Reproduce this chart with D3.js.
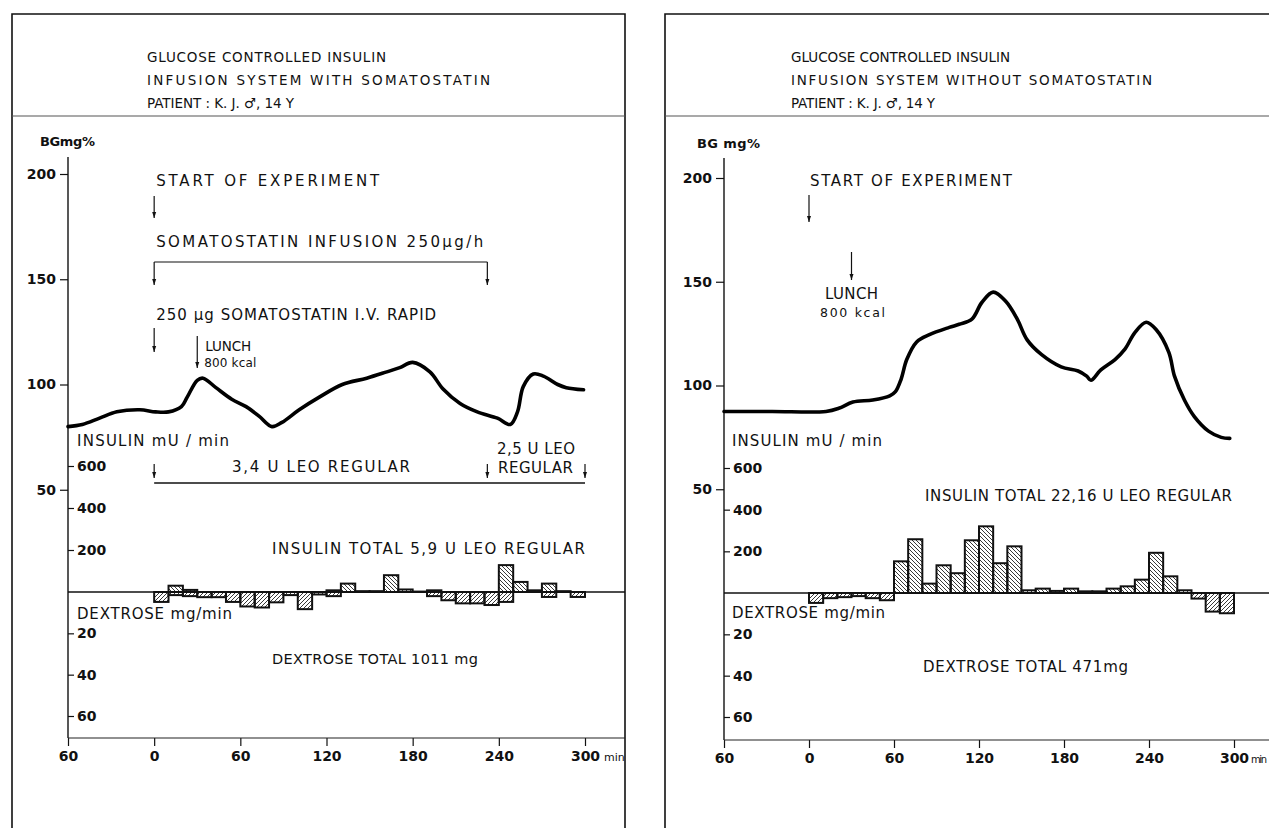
<!DOCTYPE html>
<html>
<head>
<meta charset="utf-8">
<script src="https://cdn.jsdelivr.net/npm/d3@7"></script>
<style>
  body { margin: 0; background: #fff; }
  svg text { font-family: "DejaVu Sans", "Noto Sans", sans-serif; fill: #111; }
</style>
</head>
<body>
<svg id="chart" width="1269" height="828"></svg>
<script>
// ---------------------------------------------------------------- data
var timeTicks = [-60, 0, 60, 120, 180, 240, 300];
var bgTicks = [50, 100, 150, 200];
var insulinTicks = [200, 400, 600];
var dextroseTicks = [20, 40, 60];

// 10 minute intervals used for insulin / dextrose bars
var intervalStarts = [0, 10, 20, 30, 40, 50, 60, 70, 80, 90, 100, 110, 120, 130, 140,
                      150, 160, 170, 180, 190, 200, 210, 220, 230, 240, 250, 260, 270, 280, 290];

// with somatostatin
var bgTimeWith = [-60, -50, -38, -26, -10, 1, 10, 19, 23, 30, 34, 43, 54, 64, 73, 82, 89, 101, 115,
                  131, 148, 162, 171, 180, 192, 201, 213, 225, 239, 248, 253, 257, 264, 271, 281, 287, 299];
var bgWith = [80, 81, 84, 87, 88, 87, 87, 89.5, 94, 102, 103, 98.5, 93, 89.5, 85, 80, 82, 88, 94,
              100, 103, 106, 108, 110.5, 106, 98, 91, 87, 84, 81, 87, 99, 105, 104, 100, 98.5, 97.5];
var insulinWith = [0, 30, 10, 0, 0, 0, 0, 0, 0, 0, 0, 0, 8, 40, 4,
                   4, 80, 12, 2, 8, 0, 0, 0, 0, 128, 48, 8, 40, 4, 0];
var dextroseWith = [4.8, 1.5, 2, 2.5, 2.5, 4.8, 7, 7.5, 5, 1.5, 8.3, 1.2, 2, 0, 0,
                    0, 0, 0, 0, 2, 4, 5.5, 5.5, 6.3, 4.8, 0, 0, 2.4, 0, 2.4];

// without somatostatin
var bgTimeWithout = [-60, -26, 12, 21, 31, 45, 57, 61, 65, 69, 76, 85, 99, 106, 115, 122, 130, 139, 147,
                     154, 164, 178, 190, 196, 199, 206, 216, 223, 230, 238, 245, 254, 258, 265, 272, 282, 291, 297];
var bgWithout = [87.5, 87.5, 87.5, 89, 92, 93, 95, 97, 103, 112.5, 121, 124.5, 128, 129.5, 132, 140, 145, 140.5, 132,
                 122, 115, 109, 107, 104.5, 102.5, 107.5, 112.5, 117.5, 125.5, 130.5, 127, 116, 104.5, 93, 85, 78, 75, 74.5];
var insulinWithout = [0, 0, 0, 0, 0, 0, 152, 258, 45, 133, 95, 253, 320, 143, 224,
                      13, 21, 10, 21, 8, 8, 21, 32, 64, 193, 80, 13, 0, 0, 0];
var dextroseWithout = [4.8, 2.5, 2, 1.5, 2.5, 3.5, 0, 0, 0, 0, 0, 0, 0, 0, 0,
                       0, 0, 0, 0, 0, 0, 0, 0, 0, 0, 0, 0, 2.7, 9, 9.8];

var somatostatinEnd = 232;  // end of infusion / first insulin period (min)
var lunchTime = 30;

// ---------------------------------------------------------------- setup
var svg = d3.select('#chart');
var defs = svg.append('defs');

defs.append('pattern')
  .attr('id', 'hatch-ins')
  .attr('patternUnits', 'userSpaceOnUse')
  .attr('width', 4).attr('height', 4)
  .append('path')
    .attr('d', 'M-1,-1 l6,6 M-1,3 l2,2 M3,-1 l2,2')
    .attr('stroke', '#222').attr('stroke-width', 0.9);

defs.append('pattern')
  .attr('id', 'hatch-dex')
  .attr('patternUnits', 'userSpaceOnUse')
  .attr('width', 4).attr('height', 4)
  .append('path')
    .attr('d', 'M-1,5 l6,-6 M-1,1 l2,-2 M3,5 l2,-2')
    .attr('stroke', '#222').attr('stroke-width', 0.9);

function label(g, x, y, txt, width, opts) {
  opts = opts || {};
  var t = g.append('text')
    .attr('x', x).attr('y', y)
    .attr('font-size', opts.size || 15)
    .attr('font-weight', opts.weight || 'normal')
    .attr('text-anchor', opts.anchor || 'start')
    .text(txt);
  if (width) t.attr('textLength', width).attr('lengthAdjust', 'spacing');
  return t;
}

function arrowDown(g, x, y1, y2) {
  g.append('line')
    .attr('x1', x).attr('x2', x).attr('y1', y1).attr('y2', y2)
    .attr('stroke', '#111').attr('stroke-width', 1.2);
  g.append('path')
    .attr('d', 'M' + (x - 2) + ',' + (y2 - 6) + 'L' + x + ',' + y2 + 'L' + (x + 2) + ',' + (y2 - 6) + 'Z')
    .attr('fill', '#111');
}

//--------------------------------------------------------------- one panel
function drawPanel(p) {
  var g = svg.append('g');

  // frame
  g.append('path')
    .attr('d', 'M' + p.frameL + ',830 V14 H' + p.frameR + (p.closeRight ? ' V830' : ''))
    .attr('fill', 'none').attr('stroke', '#111').attr('stroke-width', 1.6);
  g.append('line')
    .attr('x1', p.frameL).attr('x2', p.frameR).attr('y1', 116).attr('y2', 116)
    .attr('stroke', '#555').attr('stroke-width', 1.2);

  // title
  label(g, p.titleX, 62, p.title[0], p.titleW[0], {size: 13.5});
  label(g, p.titleX, 85, p.title[1], p.titleW[1], {size: 13.5});
  label(g, p.titleX, 108, p.title[2], p.titleW[2], {size: 13.5});

  var x = d3.scaleLinear().domain([-60, 300]).range(p.xRange);
  var yBG = d3.scaleLinear().domain([0, 200]).range(p.bgRange);
  var yIns = d3.scaleLinear().domain([0, 600]).range(p.insRange);
  var yDex = d3.scaleLinear().domain([0, 60]).range(p.dexRange);
  var base = yIns(0);

  // axes
  var bgAxis = g.append('g')
    .attr('transform', 'translate(' + x(-60) + ',0)')
    .call(d3.axisLeft(yBG).tickValues(bgTicks).tickSize(8).tickPadding(4));
  var insAxis = g.append('g')
    .attr('transform', 'translate(' + x(-60) + ',0)')
    .call(d3.axisRight(yIns).tickValues(insulinTicks).tickSize(6).tickPadding(3));
  var dexAxis = g.append('g')
    .attr('transform', 'translate(' + x(-60) + ',0)')
    .call(d3.axisRight(yDex).tickValues(dextroseTicks).tickSize(6).tickPadding(3));
  var xAxis = g.append('g')
    .attr('transform', 'translate(0,' + p.xAxisY + ')')
    .call(d3.axisBottom(x).tickValues(timeTicks).tickSize(8).tickPadding(5)
      .tickFormat(function(d) { return Math.abs(d); }));

  [bgAxis, insAxis, dexAxis, xAxis].forEach(function(a) {
    a.select('.domain').remove();
    a.selectAll('line').attr('stroke', '#111').attr('stroke-width', 1.2);
    a.selectAll('text')
      .attr('font-family', '"DejaVu Sans", "Noto Sans", sans-serif')
      .attr('font-size', 14).attr('font-weight', 'bold').attr('fill', '#111');
  });

  // axis lines
  g.append('line')
    .attr('x1', x(-60)).attr('x2', x(-60)).attr('y1', p.axisTop).attr('y2', p.xAxisY)
    .attr('stroke', '#111').attr('stroke-width', 1.4);
  g.append('line')
    .attr('x1', x(-60)).attr('x2', p.frameR).attr('y1', p.xAxisY).attr('y2', p.xAxisY)
    .attr('stroke', '#222').attr('stroke-width', 1.2);
  g.append('line')
    .attr('x1', x(-60)).attr('x2', p.frameR).attr('y1', base).attr('y2', base)
    .attr('stroke', '#111').attr('stroke-width', 1.3);

  label(g, p.minX, p.xAxisY + 23, 'min', p.minW, {size: p.minSize});

  // bars
  var ins = p.insulin.map(function(v, i) { return {t: intervalStarts[i], v: v}; })
    .filter(function(d) { return d.v > 0; });
  var dex = p.dextrose.map(function(v, i) { return {t: intervalStarts[i], v: v}; })
    .filter(function(d) { return d.v > 0; });

  g.selectAll('.ins-bar').data(ins).enter()
    .append('rect')
      .attr('class', 'ins-bar')
      .attr('x', function(d) { return x(d.t); })
      .attr('width', function(d) { return x(d.t + 10) - x(d.t); })
      .attr('y', function(d) { return yIns(d.v); })
      .attr('height', function(d) { return base - yIns(d.v); })
      .attr('fill', 'url(#hatch-ins)')
      .attr('stroke', '#111').attr('stroke-width', 2);

  g.selectAll('.dex-bar').data(dex).enter()
    .append('rect')
      .attr('class', 'dex-bar')
      .attr('x', function(d) { return x(d.t); })
      .attr('width', function(d) { return x(d.t + 10) - x(d.t); })
      .attr('y', base)
      .attr('height', function(d) { return yDex(d.v) - base; })
      .attr('fill', 'url(#hatch-dex)')
      .attr('stroke', '#111').attr('stroke-width', 2);

  // blood glucose curve
  var line = d3.line()
    .x(function(d) { return x(d[0]); })
    .y(function(d) { return yBG(d[1]); })
    .curve(d3.curveCatmullRom.alpha(0.5));
  g.append('path')
    .datum(d3.zip(p.bgTime, p.bg))
    .attr('d', line)
    .attr('fill', 'none')
    .attr('stroke', '#000').attr('stroke-width', 3.6)
    .attr('stroke-linejoin', 'round').attr('stroke-linecap', 'round');

  p.annotate(g, x);
}

//--------------------------------------------------------------- left panel
drawPanel({
  frameL: 12, frameR: 625, closeRight: true,
  titleX: 147,
  title: ['GLUCOSE   CONTROLLED  INSULIN', 'INFUSION   SYSTEM   WITH   SOMATOSTATIN', 'PATIENT : K. J. \u2642, 14 Y'],
  titleW: [239, 343, 147],
  xRange: [68, 585], bgRange: [595, 174], insRange: [592, 466], dexRange: [592, 716],
  xAxisY: 738, axisTop: 157, minX: 604, minW: null, minSize: 11,
  bgTime: bgTimeWith, bg: bgWith, insulin: insulinWith, dextrose: dextroseWith,
  annotate: function(g, x) {
    label(g, 40, 146, 'BGmg%', 55, {size: 13, weight: 'bold'});
    label(g, x(0) + 2, 186, 'START  OF  EXPERIMENT', 223);
    arrowDown(g, x(0), 196, 218);
    label(g, x(0) + 2, 247, 'SOMATOSTATIN    INFUSION      250\u03bcg/h', 327);
    g.append('path')
      .attr('d', 'M' + x(0) + ',262 H' + x(somatostatinEnd))
      .attr('stroke', '#111').attr('stroke-width', 1.2).attr('fill', 'none');
    arrowDown(g, x(0), 262, 285);
    arrowDown(g, x(somatostatinEnd), 262, 285);
    label(g, x(0) + 2, 320, '250 \u03bcg SOMATOSTATIN  I.V.  RAPID', 280);
    arrowDown(g, x(0), 328, 352);
    arrowDown(g, x(lunchTime), 336, 368);
    label(g, x(lunchTime) + 8, 351, 'LUNCH', 46, {size: 13.5});
    label(g, x(lunchTime) + 7, 367, '800 kcal', 52, {size: 12});
    label(g, 77, 446, 'INSULIN   mU / min', 152);
    label(g, 232, 472, '3,4 U    LEO    REGULAR', 178);
    g.append('line')
      .attr('x1', x(0)).attr('x2', x(300)).attr('y1', 483).attr('y2', 483)
      .attr('stroke', '#111').attr('stroke-width', 1.3);
    [0, somatostatinEnd, 300].forEach(function(t) { arrowDown(g, x(t), 464, 478); });
    label(g, 497, 454, '2,5 U LEO', 78);
    label(g, 498, 473, 'REGULAR', 75);
    label(g, 272, 554, 'INSULIN  TOTAL  5,9 U   LEO  REGULAR', 313);
    label(g, 77, 619, 'DEXTROSE mg/min', 155);
    label(g, 272, 664, 'DEXTROSE  TOTAL  1011 mg', 206, {size: 14.5});
  }
});

//--------------------------------------------------------------- right panel
drawPanel({
  frameL: 665, frameR: 1269, closeRight: false,
  titleX: 791,
  title: ['GLUCOSE   CONTROLLED   INSULIN', 'INFUSION   SYSTEM   WITHOUT   SOMATOSTATIN', 'PATIENT : K. J. \u2642, 14 Y'],
  titleW: [219, 361, 144],
  xRange: [724, 1234], bgRange: [593, 178], insRange: [593, 468], dexRange: [593, 717],
  xAxisY: 740, axisTop: 158, minX: 1251, minW: 16, minSize: 10,
  bgTime: bgTimeWithout, bg: bgWithout, insulin: insulinWithout, dextrose: dextroseWithout,
  annotate: function(g, x) {
    label(g, 697, 148, 'BG mg%', 63, {size: 13, weight: 'bold'});
    label(g, x(0) + 1, 186, 'START  OF  EXPERIMENT', 202);
    arrowDown(g, x(0), 195, 222);
    arrowDown(g, x(lunchTime), 252, 280);
    label(g, x(lunchTime), 299, 'LUNCH', 53, {anchor: 'middle'});
    label(g, x(lunchTime) + 1, 317, '800  kcal', 65, {anchor: 'middle', size: 12.5});
    label(g, 732, 446, 'INSULIN   mU / min', 150);
    label(g, 925, 501, 'INSULIN  TOTAL  22,16 U  LEO  REGULAR', 307);
    label(g, 732, 618, 'DEXTROSE mg/min', 153);
    label(g, 923, 672, 'DEXTROSE  TOTAL  471mg', 205);
  }
});
</script>
</body>
</html>
